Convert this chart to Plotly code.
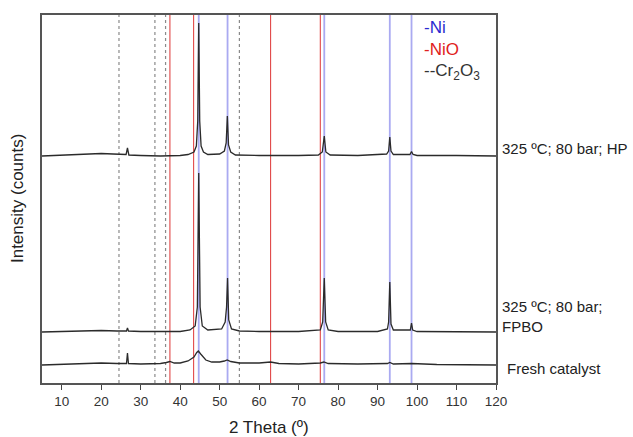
import plotly.graph_objects as go

# ---------------- data ----------------
two_theta_ticks = [10, 20, 30, 40, 50, 60, 70, 80, 90, 100, 110, 120]

ni_lines = [44.7, 52.0, 76.5, 93.1, 98.6]
nio_lines = [37.4, 43.4, 62.9, 75.5]
cr2o3_lines = [24.5, 33.6, 36.3, 55.0]

sample_names = ["325 ºC; 80 bar; HP", "325 ºC; 80 bar;<br>FPBO", "Fresh catalyst"]
stack_offsets = [227, 51, 18]

hp_x = [5, 10, 15, 20, 23, 26.3, 26.65, 27.0, 30, 35, 40, 42, 43.5, 44.1, 44.45, 44.7, 44.95,
        45.3, 45.9, 47, 50, 51.2, 51.65, 51.95, 52.25, 52.8, 54, 60, 70, 75, 76.0, 76.5, 76.9,
        78, 85, 92.3, 92.8, 93.1, 93.4, 94, 98.2, 98.6, 99.0, 100, 110, 120]
hp_y = [0, 1, 1.5, 2.5, 2, 1.5, 8, 1, 0.5, 0, 0.5, 1.5, 4, 10, 35, 133, 35,
        10, 4, 1.5, 2, 5, 13, 40, 11, 4, 1, 0.5, 0.5, 1, 4, 20, 4,
        1, 0.5, 2, 5, 19, 5, 1.5, 1.5, 4.5, 1.5, 0.5, 0.5, 0]

fpbo_x = [5, 15, 20, 24, 26.4, 26.65, 26.9, 30, 40, 42.5, 43.8, 44.35, 44.7, 45.05, 45.6, 47,
          50.5, 51.4, 51.75, 52.0, 52.3, 53, 55, 60, 70, 75.5, 76.1, 76.5, 76.85, 77.5, 80, 90,
          92.5, 92.8, 93.1, 93.4, 94, 98.3, 98.6, 98.9, 100, 120]
fpbo_y = [0, 1, 1.5, 1, 1, 4, 1, 0.5, 0.5, 2, 6, 25, 159, 25, 6, 2,
          3, 10, 25, 54, 12, 3, 1, 0.5, 0.5, 2, 10, 54, 10, 2, 0.5, 0.5,
          3, 10, 50, 8, 2, 2, 9, 2, 0.5, 0]

fresh_x = [5, 15, 20, 24, 26.4, 26.65, 26.9, 30, 35, 36.5, 37.4, 38.5, 40, 42, 43.5, 44.2,
           44.6, 45.2, 46.5, 48, 50, 51.2, 51.9, 52.8, 55, 60, 62.9, 65, 70, 75.5, 76.4,
           77.5, 85, 92.5, 93.1, 94, 98.6, 105, 120]
fresh_y = [0, 1, 2, 1.5, 1.5, 12, 1.5, 1, 1.5, 2.5, 3.5, 2, 2, 4, 8, 12.5,
           14, 11, 5, 3, 3, 4, 5, 3.5, 2, 2, 3, 1.5, 1, 2, 3,
           1.5, 1, 1.5, 2.5, 1, 1.5, 0.5, 0]

patterns = [(hp_x, hp_y), (fpbo_x, fpbo_y), (fresh_x, fresh_y)]

# ---------------- figure ----------------
fig = go.Figure()

for (px, py), off in zip(patterns, stack_offsets):
    fig.add_trace(go.Scatter(
        x=px, y=[v + off for v in py], mode="lines",
        line=dict(color="#2b2b2b", width=1.3),
        showlegend=False, hoverinfo="skip"))

shapes = []
for xv in cr2o3_lines:
    shapes.append(dict(type="line", xref="x", yref="paper", x0=xv, x1=xv, y0=0, y1=1,
                       line=dict(color="#8a8a8a", width=1.2, dash="dot"), layer="below"))
for xv in nio_lines:
    shapes.append(dict(type="line", xref="x", yref="paper", x0=xv, x1=xv, y0=0, y1=1,
                       line=dict(color="rgba(220,40,40,0.85)", width=1.1), layer="below"))
for xv in ni_lines:
    shapes.append(dict(type="line", xref="x", yref="paper", x0=xv, x1=xv, y0=0, y1=1,
                       line=dict(color="rgba(100,100,230,0.55)", width=1.8), layer="below"))

font_family = "Liberation Sans, Arial, sans-serif"
annotations = []
label_y = [235, 67, 15]
label_x = [1.009, 1.009, 1.02]
for name, ly, lx in zip(sample_names, label_y, label_x):
    annotations.append(dict(text=name, xref="paper", yref="y", x=lx, y=ly,
                            xanchor="left", yanchor="middle", align="left", showarrow=False,
                            font=dict(family=font_family, size=15, color="#222")))

legend_items = [("-Ni", "#2a2ad0", 0.966), ("-NiO", "#e02020", 0.906),
                ("--Cr<sub>2</sub>O<sub>3</sub>", "#333", 0.846)]
for txt, col, yy in legend_items:
    annotations.append(dict(text=txt, xref="paper", yref="paper", x=0.838, y=yy,
                            xanchor="left", yanchor="middle", showarrow=False,
                            font=dict(family=font_family, size=17, color=col)))

annotations.append(dict(text="Intensity (counts)", xref="paper", yref="paper",
                        x=-0.055, y=0.5, textangle=-90, showarrow=False,
                        xanchor="center", yanchor="middle",
                        font=dict(family=font_family, size=17, color="#222")))
annotations.append(dict(text="2 Theta (º)", xref="paper", yref="paper",
                        x=0.5, y=-0.122, showarrow=False,
                        xanchor="center", yanchor="middle",
                        font=dict(family=font_family, size=17, color="#222")))

fig.update_layout(
    width=633, height=437,
    margin=dict(l=42, r=137, t=15, b=54),
    paper_bgcolor="white", plot_bgcolor="white",
    shapes=shapes, annotations=annotations,
    font=dict(family=font_family, color="#333"),
)
fig.update_xaxes(range=[5, 120], tickvals=two_theta_ticks, ticks="outside", ticklen=5,
                 tickwidth=1.2, tickcolor="#444", showgrid=False, zeroline=False,
                 showline=True, linecolor="#555", linewidth=1.5, mirror=True,
                 tickfont=dict(size=13.5, color="#333", family=font_family))
fig.update_yaxes(range=[0, 368], showticklabels=False, ticks="", showgrid=False,
                 zeroline=False, showline=True, linecolor="#555", linewidth=1.5, mirror=True)

fig.write_html("out.html", config={"displayModeBar": False},
               post_script="document.body.style.margin='0';document.body.style.overflow='hidden';")
